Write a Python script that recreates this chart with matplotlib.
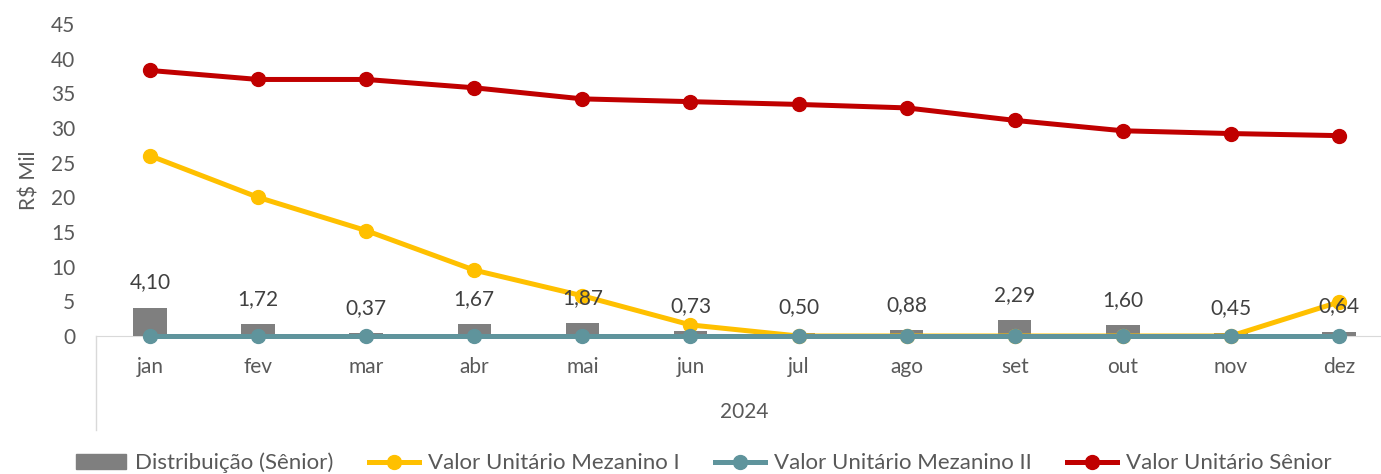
import matplotlib
matplotlib.use("Agg")
import matplotlib.pyplot as plt
from matplotlib.lines import Line2D
from matplotlib.patches import Patch
import numpy as np

plt.rcParams['font.family'] = ['Lato', 'DejaVu Sans']

months = ['jan', 'fev', 'mar', 'abr', 'mai', 'jun', 'jul', 'ago', 'set', 'out', 'nov', 'dez']
year_label = '2024'
distribuicao = [4.10, 1.72, 0.37, 1.67, 1.87, 0.73, 0.50, 0.88, 2.29, 1.60, 0.45, 0.64]
mezanino_1 = [26.0, 20.0, 15.2, 9.5, 5.8, 1.6, 0.0, 0.0, 0.0, 0.0, 0.0, 4.9]
mezanino_2 = [0.0] * 12
senior = [38.3, 37.0, 37.0, 35.8, 34.2, 33.8, 33.4, 32.9, 31.1, 29.6, 29.2, 28.9]

W, H = 1381, 474
fig = plt.figure(figsize=(W / 100, H / 100), dpi=100)
ax = fig.add_axes([96 / W, (H - 336) / H, (1393 - 96) / W, (336 - 24) / H])

x = np.arange(len(months))
txt = '#595959'
c_bar, c_m1, c_m2, c_sen = '#7f7f7f', '#FFC000', '#5F949C', '#C00000'

ax.bar(x, distribuicao, width=0.31, color=c_bar, zorder=2)
for xi, v in zip(x, distribuicao):
    ax.annotate(f'{v:.2f}'.replace('.', ','), (xi, v), xytext=(0, 18), textcoords='offset points',
                ha='center', va='center', fontsize=15, color='#404040', zorder=5)

lw, ms = 3.6, 10
ax.plot(x, mezanino_1, color=c_m1, lw=lw, marker='o', ms=ms, zorder=3, clip_on=False)
ax.plot(x, mezanino_2, color=c_m2, lw=lw, marker='o', ms=ms, zorder=4, clip_on=False)
ax.plot(x, senior, color=c_sen, lw=lw, marker='o', ms=ms, zorder=3, clip_on=False)

ax.set_xlim(-0.5, 11.5)
ax.set_ylim(0, 45)
ax.set_yticks(range(0, 46, 5))
ax.set_xticks(x)
ax.set_xticklabels(months)
ax.tick_params(length=0, labelsize=15, colors=txt)
ax.tick_params(axis='x', pad=15)
ax.tick_params(axis='y', pad=15)
for s in ['top', 'right', 'left']:
    ax.spines[s].set_visible(False)
ax.spines['bottom'].set_color('#d9d9d9')
ax.spines['bottom'].set_zorder(1)
ax.set_ylabel('R$ Mil', fontsize=15, color=txt, labelpad=8)

# category group divider and year label
ax.plot([-0.5, -0.5], [0, -0.30], color='#d9d9d9', lw=1,
        transform=ax.get_xaxis_transform(), clip_on=False)
ax.text(5.5, -0.245, year_label, transform=ax.get_xaxis_transform(),
        ha='center', va='center', fontsize=15, color=txt)

handles = [
    Patch(color=c_bar),
    Line2D([], [], color=c_m1, lw=lw, marker='o', ms=ms),
    Line2D([], [], color=c_m2, lw=lw, marker='o', ms=ms),
    Line2D([], [], color=c_sen, lw=lw, marker='o', ms=ms),
]
labels = ['Distribuição (Sênior)', 'Valor Unitário Mezanino I',
          'Valor Unitário Mezanino II', 'Valor Unitário Sênior']
leg = fig.legend(handles, labels, loc='center', bbox_to_anchor=(704 / W, 11 / H), ncol=4,
                 frameon=False, fontsize=16, handlelength=2.25, handletextpad=0.4,
                 columnspacing=1.6, borderaxespad=0)
for t in leg.get_texts():
    t.set_color(txt)

fig.savefig('out.png', dpi=100)
